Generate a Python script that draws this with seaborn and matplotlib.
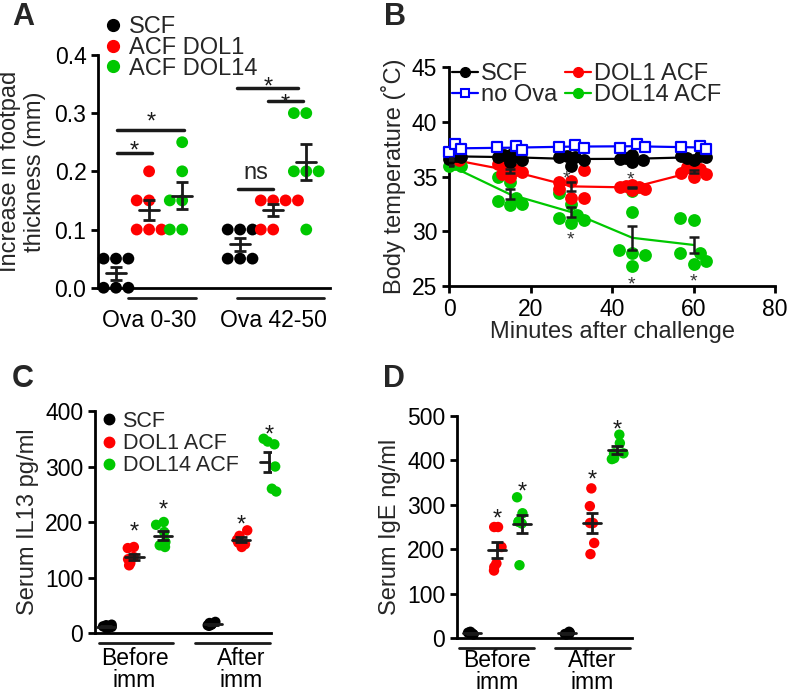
import numpy as np
import pandas as pd
import seaborn as sns
import matplotlib.pyplot as plt
from matplotlib.lines import Line2D

sns.set_theme(style="ticks")
plt.rcParams['font.family'] = ['Liberation Sans', 'DejaVu Sans']
plt.rcParams['axes.linewidth'] = 2
plt.rcParams['xtick.major.width'] = 2
plt.rcParams['ytick.major.width'] = 2
plt.rcParams['xtick.major.size'] = 5
plt.rcParams['ytick.major.size'] = 5
plt.rcParams['xtick.labelsize'] = 16.5
plt.rcParams['ytick.labelsize'] = 16.5
plt.rcParams['axes.labelsize'] = 17
plt.rcParams['xtick.color'] = 'black'
plt.rcParams['ytick.color'] = 'black'
plt.rcParams['axes.edgecolor'] = 'black'

# A: footpad thickness
a_groups = ["Ova 0-30", "Ova 42-50"]
a_labels = ["SCF", "ACF DOL1", "ACF DOL14"]
a_scf = [[0, 0, 0, 0.05, 0.05, 0.05], [0.05, 0.05, 0.05, 0.1, 0.1, 0.1]]
a_dol1 = [[0.1, 0.1, 0.1, 0.15, 0.15, 0.2], [0.1, 0.1, 0.15, 0.15, 0.15, 0.15]]
a_dol14 = [[0.1, 0.1, 0.15, 0.15, 0.2, 0.25], [0.1, 0.2, 0.2, 0.2, 0.3, 0.3]]

# B: body temperature (minute each dot is drawn at, and its value)
b_scf_t = [0, 0.8, 1.8, 3, 12, 13.5, 15, 15.5, 16.5, 18, 27, 29, 30, 31, 33,
           42, 43.5, 45, 45, 47.5, 57, 58.5, 60, 61.5, 63]
b_scf_y = [36.6, 37.1, 36.9, 36.8, 36.8, 37.0, 36.3, 37.1, 36.9, 36.5, 36.8, 36.9, 36.0, 36.8, 36.5,
           36.6, 36.7, 37.0, 36.3, 36.5, 36.9, 36.7, 36.5, 36.9, 36.8]
b_noova_t = [0, 1.5, 3, 11.8, 16.5, 18, 27, 31, 33, 42, 46, 48, 57, 61.5, 63]
b_noova_y = [37.2, 38.0, 37.5, 37.7, 37.8, 37.4, 37.7, 37.9, 37.6, 37.6, 38.0, 37.7, 37.7, 37.8, 37.5]
b_dol1_t = [0.5, 2.5, 12, 13, 14, 15, 16.5, 18, 27, 27, 30, 30, 33, 33,
            42, 43.5, 45, 45, 46.5, 48, 57, 58.5, 60, 60, 61.5, 63]
b_dol1_y = [36.7, 36.5, 36.1, 35.2, 35.9, 35.0, 35.6, 35.4, 34.5, 33.9, 34.6, 33.0, 35.6, 33.0,
            34.0, 34.1, 34.2, 33.8, 34.0, 33.9, 35.3, 35.9, 35.0, 35.5, 35.7, 35.2]
b_dol14_t = [0, 1.5, 3, 12, 12, 15, 15, 16.5, 18, 27, 27, 30, 30, 31.5, 33,
             41.6, 45, 45, 45, 48, 45, 56.7, 60, 56.7, 61.6, 60, 63]
b_dol14_y = [36.0, 36.1, 36.0, 35.0, 32.8, 34.5, 32.4, 33.0, 32.5, 33.5, 31.2, 30.8, 32.5, 31.5, 31.0,
             28.3, 33.7, 31.8, 28.0, 27.8, 26.8, 31.2, 31.0, 28.0, 28.0, 27.0, 27.3]
b_star_t = [28.7, 44.5, 29.9, 44.8, 60.1]
b_star_y = [35.35, 35.3, 29.8, 25.7, 26.0]

# C: serum IL13
c_groups = ["Before\nimm", "After\nimm"]
c_labels = ["SCF", "DOL1 ACF", "DOL14 ACF"]
c_scf = [[8, 10, 12, 14, 15, 11], [13, 15, 18, 20, 16, 14]]
c_dol1 = [[122, 126, 133, 137, 153, 155], [155, 160, 163, 168, 175, 185]]
c_dol14 = [[155, 158, 164, 182, 195, 200], [255, 260, 300, 340, 345, 350]]
c_star_y = [195, 234, 207, 369]

# D: serum IgE
d_scf = [[8, 10, 11, 12, 14, 10], [8, 9, 11, 12, 14, 10]]
d_dol1 = [[152, 160, 168, 205, 250, 250], [189, 214, 259, 259, 297, 337]]
d_dol14 = [[164, 258, 262, 262, 281, 317], [403, 405, 416, 416, 439, 458]]
d_star_y = [283, 344, 371, 484]

colors = ['black', '#ff0000', '#00c800']


def long_df(groups, labels, series):
    rows = []
    for lab, ser in zip(labels, series):
        for g, vals in zip(groups, ser):
            for v in vals:
                rows.append((g, lab, v))
    return pd.DataFrame(rows, columns=['group', 'treat', 'val'])


def offsets(n, width=0.8):
    w = width / n
    return np.linspace(-width / 2 + w / 2, width / 2 - w / 2, n)


def mean_sem(ax, df, groups, labels, half):
    offs = offsets(len(labels))
    stats = df.groupby(['group', 'treat'])['val'].agg(['mean', 'sem'])
    for gi, g in enumerate(groups):
        for ti, t in enumerate(labels):
            m, s = stats.loc[(g, t)]
            x = gi + offs[ti]
            ax.errorbar(x, m, yerr=s, color='k', capsize=4, elinewidth=2, capthick=2, zorder=5)
            ax.plot([x - half, x + half], [m, m], color='k', lw=2, zorder=5)


def group_lines(ax, spans, y):
    tr = ax.get_xaxis_transform()
    for gi, (x0, x1) in enumerate(spans):
        ax.plot([gi + x0, gi + x1], [y, y], color='k', lw=2, transform=tr, clip_on=False)


def star(ax, x, y, size=17, color='k', text='*'):
    ax.annotate(text, xy=(x, y), xytext=(0, -0.57 * size), textcoords='offset points',
                ha='center', va='baseline', fontsize=size, color=color)


def dot_legend(ax, labels, anchor, size, fs, spacing):
    handles = [Line2D([], [], ls='none', marker='o', ms=size, color=c, label=l)
               for c, l in zip(colors, labels)]
    ax.legend(handles=handles, loc='upper left', bbox_to_anchor=anchor, frameon=False,
              borderpad=0, borderaxespad=0, handlelength=0.6, handletextpad=0.35,
              labelspacing=spacing, fontsize=fs)


fig = plt.figure(figsize=(7.92, 6.95), dpi=100)

# ---------- A ----------
axA = fig.add_axes([0.124, 0.586, 0.293, 0.335])
dfA = long_df(a_groups, a_labels, [a_scf, a_dol1, a_dol14])
sns.swarmplot(data=dfA, x='group', y='val', hue='treat', order=a_groups, hue_order=a_labels,
              palette=colors, dodge=True, size=8.5, linewidth=0, legend=False, clip_on=False, ax=axA)
mean_sem(axA, dfA, a_groups, a_labels, 0.08)
axA.set_xlim(-0.41, 1.46)
axA.set_ylim(0, 0.4)
axA.set_yticks([0, 0.1, 0.2, 0.3, 0.4])
axA.set_yticklabels(['0.0', '0.1', '0.2', '0.3', '0.4'])
axA.set_ylabel('Increase in footpad\nthickness (mm)', labelpad=6)
axA.set_xlabel('')
axA.tick_params(axis='x', length=0, pad=15)
sns.despine(ax=axA)
group_lines(axA, [(-0.17, 0.38), (-0.29, 0.41)], -0.043)
for x0, x1, y in [(-0.26, 0.02, 0.232), (-0.26, 0.28, 0.271), (0.71, 1.20, 0.343),
                  (0.96, 1.24, 0.321), (0.72, 1.0, 0.169)]:
    axA.plot([x0, x1], [y, y], color='k', lw=2.5)
star(axA, -0.12, 0.247)
star(axA, 0.02, 0.297)
star(axA, 0.96, 0.357)
star(axA, 1.10, 0.328)
axA.annotate('ns', xy=(0.86, 0.197), xytext=(0, -4.5), textcoords='offset points',
             ha='center', va='baseline', fontsize=17)
dot_legend(axA, a_labels, (0.035, 1.165), 8.5, 17, -0.06)

# ---------- B ----------
axB = fig.add_axes([0.567, 0.5885, 0.4116, 0.315])
b_sets = [('DOL14 ACF', b_dol14_t, b_dol14_y, colors[2], 'o'),
          ('DOL1 ACF', b_dol1_t, b_dol1_y, colors[1], 'o'),
          ('SCF', b_scf_t, b_scf_y, colors[0], 'o'),
          ('no Ova', b_noova_t, b_noova_y, '#0000ff', 's')]
for name, ts, ys, col, mk in b_sets:
    d = pd.DataFrame({'t': ts, 'y': ys})
    d['nom'] = (d['t'] / 15).round() * 15
    sns.lineplot(data=d, x='nom', y='y', estimator='mean', errorbar=None, color=col, lw=1.6, ax=axB)
    if mk == 's':
        axB.scatter(d['t'], d['y'], marker='s', s=55, facecolors='white', edgecolors=col,
                    linewidths=1.6, zorder=4, clip_on=False)
    else:
        sns.scatterplot(data=d, x='t', y='y', color=col, s=85, linewidth=0, zorder=3,
                        clip_on=False, ax=axB)
    st = d.groupby('nom')['y'].agg(['mean', 'sem'])
    if name in ('DOL14 ACF', 'DOL1 ACF'):
        axB.errorbar(st.index, st['mean'], yerr=st['sem'], fmt='none', ecolor='k',
                     elinewidth=1.8, capsize=3.5, capthick=1.8, zorder=6)
for x, y in zip(b_star_t, b_star_y):
    star(axB, x, y, size=14, color='#333333')
axB.set_xlim(0, 80)
axB.set_ylim(25, 45)
axB.set_xticks([0, 20, 40, 60, 80])
axB.set_yticks([25, 30, 35, 40, 45])
axB.set_xlabel('Minutes after challenge', labelpad=0)
axB.set_ylabel('Body temperature (˚C)', labelpad=4)
sns.despine(ax=axB)
b_handles = [Line2D([], [], color='black', marker='o', ms=7, lw=1.6, label='SCF'),
             Line2D([], [], color='#0000ff', marker='s', ms=6, mfc='white', mew=1.5, lw=1.6, label='no Ova'),
             Line2D([], [], color=colors[1], marker='o', ms=7, lw=1.6, label='DOL1 ACF'),
             Line2D([], [], color=colors[2], marker='o', ms=7, lw=1.6, label='DOL14 ACF')]
axB.legend(handles=b_handles, ncol=2, loc='upper left', bbox_to_anchor=(0.01, 1.017), frameon=False,
           borderpad=0, borderaxespad=0, handlelength=1.1, handletextpad=0.1, columnspacing=0.35,
           labelspacing=-0.05, fontsize=17)

# ---------- C ----------
np.random.seed(3)
axC = fig.add_axes([0.120, 0.0892, 0.222, 0.3194])
dfC = long_df(c_groups, c_labels, [c_scf, c_dol1, c_dol14])
sns.stripplot(data=dfC, x='group', y='val', hue='treat', order=c_groups, hue_order=c_labels,
              palette=colors, dodge=True, jitter=0.2, size=7.5, linewidth=0, legend=False,
              clip_on=False, ax=axC)
mean_sem(axC, dfC, c_groups, c_labels, 0.085)
axC.set_xlim(-0.37, 1.28)
axC.set_ylim(0, 400)
axC.set_yticks([0, 100, 200, 300, 400])
axC.set_ylabel('Serum IL13 pg/ml', labelpad=4)
axC.set_xlabel('')
axC.tick_params(axis='x', length=0, pad=10)
sns.despine(ax=axC)
group_lines(axC, [(-0.33, 0.36), (-0.43, 0.27)], -0.045)
offC = offsets(3)
for (gi, ti), y in zip([(0, 1), (0, 2), (1, 1), (1, 2)], c_star_y):
    star(axC, gi + offC[ti], y)
dot_legend(axC, c_labels, (0.04, 1.0), 7.5, 15.5, 0.05)

# ---------- D ----------
axD = fig.add_axes([0.577, 0.082, 0.221, 0.3194])
dfD = long_df(c_groups, c_labels, [d_scf, d_dol1, d_dol14])
sns.stripplot(data=dfD, x='group', y='val', hue='treat', order=c_groups, hue_order=c_labels,
              palette=colors, dodge=True, jitter=0.2, size=7.5, linewidth=0, legend=False,
              clip_on=False, ax=axD)
mean_sem(axD, dfD, c_groups, c_labels, 0.095)
axD.set_xlim(-0.42, 1.42)
axD.set_ylim(0, 500)
axD.set_yticks([0, 100, 200, 300, 400, 500])
axD.set_ylabel('Serum IgE ng/ml', labelpad=4)
axD.set_xlabel('')
axD.tick_params(axis='x', length=0, pad=8)
sns.despine(ax=axD)
group_lines(axD, [(-0.4, 0.39), (-0.39, 0.4)], -0.045)
for (gi, ti), y in zip([(0, 1), (0, 2), (1, 1), (1, 2)], d_star_y):
    star(axD, gi + offC[ti], y)

for ax in (axC, axD):
    for t in ax.get_xticklabels():
        t.set_linespacing(0.95)

# panel letters
for lab, x, y in [('A', 12, 25), ('B', 384, 25), ('C', 12, 387), ('D', 383, 387)]:
    fig.text(x / 792, 1 - y / 695, lab, fontsize=22, fontweight='bold', ha='left', va='baseline')

fig.savefig('out.png', dpi=100)
